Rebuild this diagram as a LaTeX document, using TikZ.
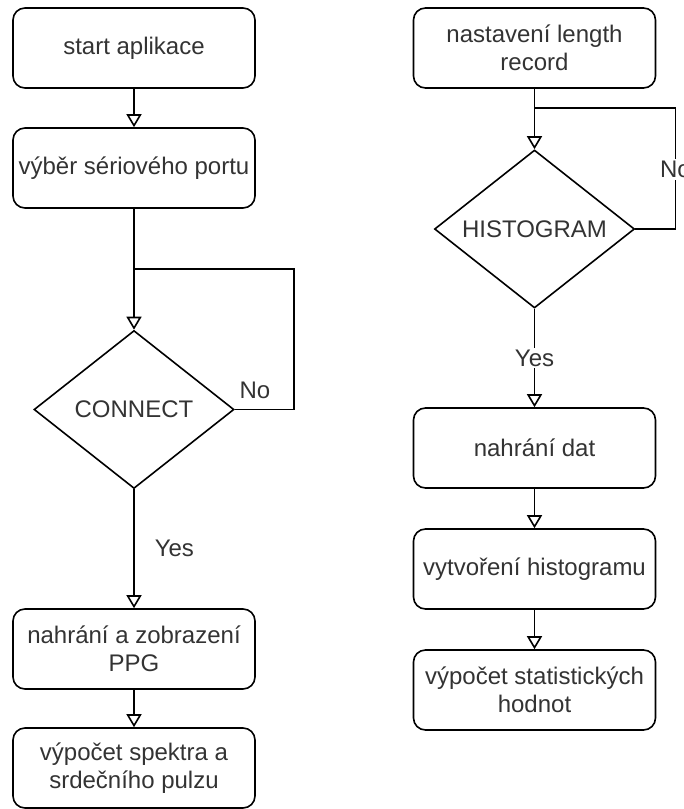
\documentclass[tikz,border=0pt]{standalone}
\usepackage{fontspec}
\setmainfont{Liberation Sans}
\usetikzlibrary{%
  positioning
 ,arrows.meta
 ,shapes
 ,calc
}
\tikzstyle{flow}=[x=1pt,y=-1pt,line width=1.6pt,font=\fontsize{24}{28}\selectfont,text=black!80]
\tikzstyle{proc}=[rectangle,rounded corners=12pt,draw=black,minimum width=242pt,minimum height=80pt,align=center,inner sep=2pt]
\tikzstyle{dec}=[diamond,draw=black,aspect=1.26,inner sep=0pt,minimum width=200pt,minimum height=158pt]
\tikzstyle{go}=[-{Triangle[open,length=13pt,width=15pt]}]
\tikzstyle{lbl}=[inner sep=3pt]
\tikzstyle{cut}=[fill=white,inner sep=2pt]

\begin{document}
\begin{tikzpicture}[flow]
      \useasboundingbox (0,0) rectangle (684,809);
      % left column
      \node[proc] (start) at (134,48) {start aplikace};
      \node[proc] (port) at (134,168) {výběr sériového portu};
      \node[dec] (connect) at (134,409.5) {CONNECT};
      \node[proc] (ppg) at (134,649) {nahrání a zobrazení\\PPG};
      \node[proc] (spektra) at (134,768) {výpočet spektra a\\srdečního pulzu};
      \coordinate (j1) at (134,269);
      \coordinate (j1r) at (294,269);
      % right column
      \node[proc] (length) at (534.5,48) {nastavení length\\record};
      \node[dec] (hist) at (534.5,229) {HISTOGRAM};
      \node[proc] (data) at (534.5,448) {nahrání dat};
      \node[proc] (histo) at (534.5,569) {vytvoření histogramu};
      \node[proc] (stat) at (534.5,690) {výpočet statistických\\hodnot};
      \coordinate (j2) at (534.5,108);
      \coordinate (j2r) at (675.5,108);

      \draw[go] (start) -- (port);
      \draw[go] (port) -- (connect);
      \draw (connect.east) -| node[lbl,above=7pt,pos=0.17] (no1) {No} (j1r) -- (j1);
      \draw[go] (connect) -- node[lbl,right=17pt] (yes1) {Yes} (ppg);
      \draw[go] (ppg) -- (spektra);

      \draw[go] (length) -- (hist);
      \draw (hist.east) -| node[cut,pos=0.745] (no2) {No} (j2r) -- (j2);
      \draw[go] (hist) -- node[cut] (yes2) {Yes} (data);
      \draw[go] (data) -- (histo);
      \draw[go] (histo) -- (stat);
\end{tikzpicture}
\end{document}
